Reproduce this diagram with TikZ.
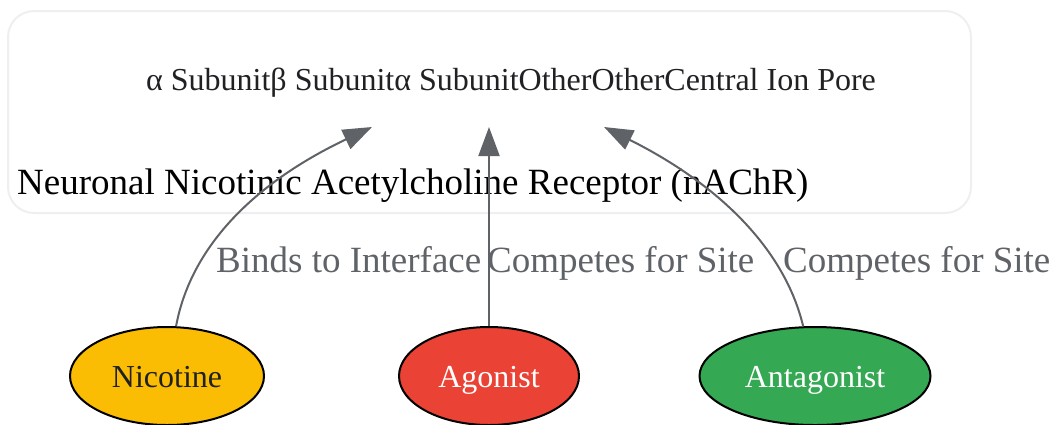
\documentclass[tikz,border=0pt]{standalone}
\usepackage{fontspec}
\setmainfont{Liberation Serif}
\usetikzlibrary{shapes.geometric,arrows.meta}
\definecolor{edgegray}{HTML}{5F6368}
\definecolor{clusterline}{HTML}{EEEFF0}
\definecolor{nicyellow}{HTML}{FBBC04}
\definecolor{agored}{HTML}{EA4335}
\definecolor{antgreen}{HTML}{34A853}
\definecolor{darktext}{HTML}{202124}
\tikzset{
  ligand/.style = {draw=black, line width=2pt, ellipse, minimum height=98pt,
    text height=22pt, text depth=0pt, font=\fontsize{32}{36}\selectfont},
  edge/.style = {edgegray, line width=2pt, -{Triangle[length=29pt,width=21pt]}},
  edgelabel/.style = {edgegray, anchor=base west, inner sep=0pt,
    font=\fontsize{37}{42}\selectfont}
}

\begin{document}
\begin{tikzpicture}[x=1pt,y=-1pt]
  \useasboundingbox (0,0) rectangle (1051,424);
  \draw[clusterline, line width=2pt, rounded corners=26pt, fill=white] (8,11) rectangle (971,213);
  \node[darktext, font=\fontsize{32}{36}\selectfont] (pore) at (511,83)
    {α Subunitβ Subunitα SubunitOtherOtherCentral Ion Pore};
  \node[anchor=west, inner sep=0pt, font=\fontsize{37}{42}\selectfont] (title) at (17,186)
    {Neuronal Nicotinic Acetylcholine Receptor (nAChR)};
  % tips under the pore label
  \coordinate (tipnic) at (372,127);
  \coordinate (tipago) at (489,127);
  \coordinate (tipant) at (604,127);
  %
  \node[ligand, fill=nicyellow, text=darktext, minimum width=194pt] (nic) at (167,376) {Nicotine};
  \node[ligand, fill=agored, text=white, minimum width=180pt] (ago) at (489,376) {Agonist};
  \node[ligand, fill=antgreen, text=white, minimum width=231pt] (ant) at (815,376) {Antagonist};
  %
  \draw[edge] (nic) .. controls (190,250) and (250,185) .. (tipnic);
  \draw[edge] (ago) -- (tipago);
  \draw[edge] (ant) .. controls (785,250) and (720,185) .. (tipant);
  \node[edgelabel] (lbind) at (216,272) {Binds to Interface};
  \node[edgelabel] (lcompa) at (487,272) {Competes for Site};
  \node[edgelabel] (lcompb) at (783,272) {Competes for Site};
\end{tikzpicture}
\end{document}
